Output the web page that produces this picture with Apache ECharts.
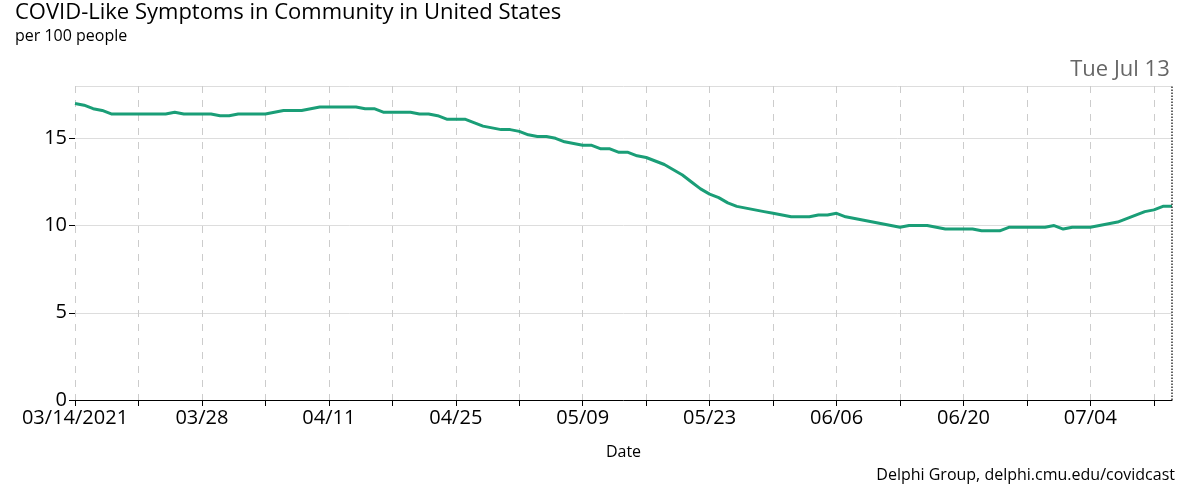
<!DOCTYPE html>
<html><head><meta charset="utf-8">
<script src="https://cdn.jsdelivr.net/npm/echarts@6/dist/echarts.min.js"></script>
<style>html,body{margin:0;padding:0;background:#fff}#c{width:1200px;height:491px}</style>
</head><body><div id="c"></div>
<script>
const values = [
17.0,16.9,16.7,16.6,16.4,16.4,16.4,
16.4,16.4,16.4,16.4,16.5,16.4,16.4,
16.4,16.4,16.3,16.3,16.4,16.4,16.4,
16.4,16.5,16.6,16.6,16.6,16.7,16.8,
16.8,16.8,16.8,16.8,16.7,16.7,16.5,
16.5,16.5,16.5,16.4,16.4,16.3,16.1,
16.1,16.1,15.9,15.7,15.6,15.5,15.5,
15.4,15.2,15.1,15.1,15.0,14.8,14.7,
14.6,14.6,14.4,14.4,14.2,14.2,14.0,
13.9,13.7,13.5,13.2,12.9,12.5,12.1,
11.8,11.6,11.3,11.1,11.0,10.9,10.8,
10.7,10.6,10.5,10.5,10.5,10.6,10.6,
10.7,10.5,10.4,10.3,10.2,10.1,10.0,
9.9,10.0,10.0,10.0,9.9,9.8,9.8,
9.8,9.8,9.7,9.7,9.7,9.9,9.9,
9.9,9.9,9.9,10.0,9.8,9.9,9.9,
9.9,10.0,10.1,10.2,10.4,10.6,10.8,
10.9,11.1,11.1];
const startDate = new Date(Date.UTC(2021,2,14));
const dates = values.map((_, i) => { const d = new Date(startDate.getTime() + i*86400000);
  return String(d.getUTCMonth()+1).padStart(2,'0') + '/' + String(d.getUTCDate()).padStart(2,'0'); });
const yTicks = [0,5,10,15];
const font = 'Open Sans';
const chart = echarts.init(document.getElementById('c'));
chart.setOption({
  animation:false,
  textStyle:{fontFamily:font},
  title:{text:'COVID-Like Symptoms in Community in United States', subtext:'per 100 people', left:10, top:-3,
    textStyle:{fontSize:22,fontWeight:'normal',color:'#000',fontFamily:font},
    subtextStyle:{fontSize:16,color:'#000',fontFamily:font}, itemGap:4},
  grid:{left:75,right:28,top:86,bottom:91},
  graphic:[{type:'text',right:25,bottom:8,style:{text:'Delphi Group, delphi.cmu.edu/covidcast',fontSize:16,fill:'#000',fontFamily:font}}],
  xAxis:{type:'category',data:dates,boundaryGap:false,name:'Date',nameLocation:'middle',nameGap:44,
    nameTextStyle:{fontSize:16,color:'#000'},
    axisLine:{lineStyle:{color:'#000'}},
    axisTick:{interval:6,length:6,lineStyle:{color:'#000'}},
    axisLabel:{interval:13,fontSize:20,color:'#000',margin:8,
      formatter:(v,i)=> i===0 ? '03/14/2021' : v},
    splitLine:{show:true,interval:6,lineStyle:{color:'#ccc',type:[7,7]}}},
  yAxis:{type:'value',min:0,max:18,interval:5,
    axisLine:{show:false},axisTick:{show:true,length:6,lineStyle:{color:'#000'}},
    axisLabel:{fontSize:20,color:'#000',showMaxLabel:false,formatter:v=>yTicks.includes(v)?String(v):''},
    splitLine:{lineStyle:{color:'#ddd'}}},
  series:[{type:'line',data:values,showSymbol:false,lineStyle:{color:'#1a9e77',width:3},itemStyle:{color:'#1a9e77'},
    markLine:{symbol:'none',silent:true,
      lineStyle:{color:'#333',type:'dotted',width:1.5},
      label:{position:'end',formatter:'Tue Jul 13',fontSize:22,color:'#666',fontFamily:font,offset:[-52,0]},
      data:[{xAxis:dates[dates.length-1]}]}}]
});
</script></body></html>
